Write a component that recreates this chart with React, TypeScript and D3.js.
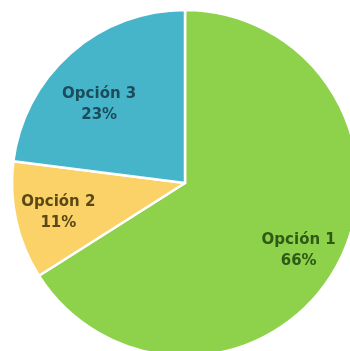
import React from "react";
import * as d3 from "d3";

const categories = ["Opción 1", "Opción 2", "Opción 3"];
const values = [66, 11, 23];
const colors = ["#8ED14C", "#FAD268", "#47B5C9"];
const textColors = ["#2E5A14", "#5A4814", "#1C4C5C"];
// layout-only nudges for label blocks (px)
const labelNudgeY = [0, -3, 14];

export default function App() {
  const W = 350, H = 351;
  const cx = 185, cy = 183, R = 173;
  const pie = d3.pie<number>().sort(null).value((d) => d);
  const arcs = pie(values);
  const arc = d3.arc<d3.PieArcDatum<number>>().innerRadius(0).outerRadius(R);
  const labelArc = d3.arc<d3.PieArcDatum<number>>().innerRadius(R * 0.75).outerRadius(R * 0.75);
  return (
    <svg width={W} height={H} style={{ position: "absolute", left: 0, top: 0, background: "#fff" }}>
      <defs>
        <filter id="soft" x="-5%" y="-5%" width="110%" height="110%">
          <feGaussianBlur stdDeviation="0.5" />
        </filter>
      </defs>
      <g transform={`translate(${cx},${cy})`} filter="url(#soft)">
        {arcs.map((a, i) => (
          <path key={i} d={arc(a) || ""} fill={colors[i]} stroke="#fff" strokeWidth={2.5} strokeLinejoin="round" />
        ))}
        {arcs.map((a, i) => {
          const [x, y0] = labelArc.centroid(a);
          const y = y0 + labelNudgeY[i];
          return (
            <text key={"t" + i} x={x} y={y} textAnchor="middle" fontFamily="DejaVu Sans" fontWeight="bold" fontSize={15} fill={textColors[i]}>
              <tspan x={x} dy={-2}>{categories[i]}</tspan>
              <tspan x={x} dy={21}>{values[i] + "%"}</tspan>
            </text>
          );
        })}
      </g>
    </svg>
  );
}
